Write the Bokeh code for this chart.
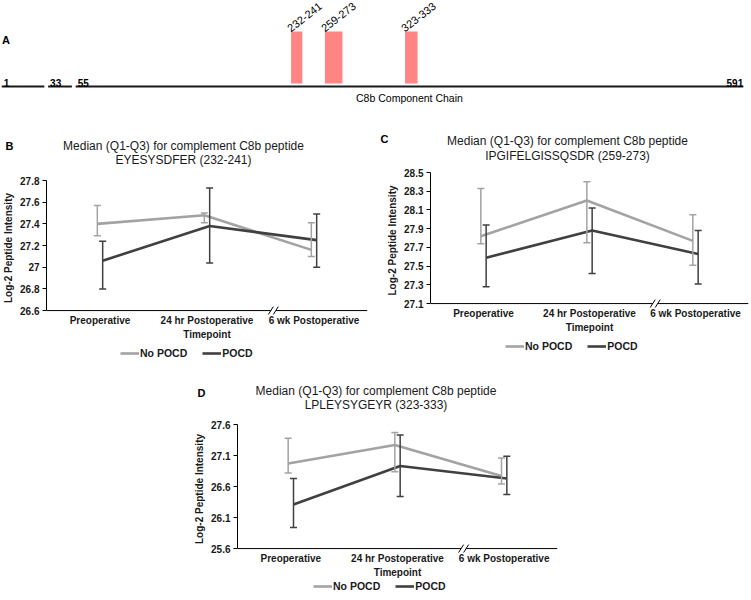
from bokeh.plotting import figure
from bokeh.models import (Range1d, FixedTicker, NumeralTickFormatter, ColumnDataSource,
                          Whisker, TeeHead, Legend, LegendItem, Spacer)
from bokeh.layouts import column, row
from bokeh.embed import file_html
from bokeh.resources import INLINE
from bokeh.core.properties import value

FONT = "Liberation Sans"
INK = "#1a1a1a"
C_NO = "#a3a3a3"
C_PO = "#404040"
BAR = "#ff8585"
NAN = float("nan")

# ---------------- data ----------------
chain_bounds = [1, 33, 55, 591]
chain_labels = ["1", "33", "55", "591"]
chain_name = "C8b Component Chain"
pep_start = [232, 259, 323]
pep_end = [241, 273, 333]
pep_labels = ["232-241", "259-273", "323-333"]

timepoints = ["Preoperative", "24 hr Postoperative", "6 wk Postoperative"]
series_names = ["No POCD", "POCD"]
x_label = "Timepoint"
y_label = "Log-2 Peptide Intensity"

# B: EYESYSDFER (232-241)
b_title = ["Median (Q1-Q3) for complement C8b peptide", "EYESYSDFER (232-241)"]
b_ticks = [26.6, 26.8, 27.0, 27.2, 27.4, 27.6, 27.8]
b_no_med = [27.40, 27.48, 27.16]
b_no_q1 = [27.29, 27.41, 27.10]
b_no_q3 = [27.57, 27.50, 27.41]
b_po_med = [27.06, 27.38, 27.25]
b_po_q1 = [26.80, 27.04, 27.00]
b_po_q3 = [27.24, 27.73, 27.49]

# C: IPGIFELGISSQSDR (259-273)
c_title = ["Median (Q1-Q3) for complement C8b peptide", "IPGIFELGISSQSDR (259-273)"]
c_ticks = [27.1, 27.3, 27.5, 27.7, 27.9, 28.1, 28.3, 28.5]
c_no_med = [27.82, 28.20, 27.77]
c_no_q1 = [27.74, 27.75, 27.51]
c_no_q3 = [28.33, 28.40, 28.05]
c_po_med = [27.59, 27.88, 27.63]
c_po_q1 = [27.28, 27.42, 27.31]
c_po_q3 = [27.94, 28.12, 27.88]

# D: LPLEYSYGEYR (323-333)
d_title = ["Median (Q1-Q3) for complement C8b peptide", "LPLEYSYGEYR (323-333)"]
d_ticks = [25.6, 26.1, 26.6, 27.1, 27.6]
d_no_med = [26.97, 27.27, 26.77]
d_no_q1 = [26.82, 26.84, 26.64]
d_no_q3 = [27.38, 27.47, 27.06]
d_po_med = [26.31, 26.93, 26.73]
d_po_q1 = [25.94, 26.44, 26.47]
d_po_q3 = [26.73, 27.43, 27.09]


def no_align(p):
    try:
        p.frame_align = False
    except Exception:
        pass
    return p


def bare(width, height, x_range, y_range):
    p = figure(width=width, height=height, x_range=x_range, y_range=y_range,
               output_backend="svg", toolbar_location=None,
               x_axis_location=None, y_axis_location=None,
               min_border=0, min_border_left=0, min_border_right=0,
               min_border_top=0, min_border_bottom=0)
    p.outline_line_color = None
    p.grid.visible = False
    return no_align(p)


# ---------------- panel A ----------------
def panel_a():
    W, H = 751, 125
    r_end = W / 1.2525
    # y measured in px from the top (reversed range)
    p = bare(W, H, Range1d(0, r_end), Range1d(H, 0))
    line_y = 86
    seg_x0 = [chain_bounds[0]] + [b + 5 for b in chain_bounds[1:3]]
    seg_x1 = [b + 2 for b in chain_bounds[1:4]]
    p.segment(x0=seg_x0, y0=[line_y] * 3, x1=seg_x1, y1=[line_y] * 3,
              line_color=INK, line_width=2.2)
    p.quad(left=pep_start, right=pep_end, bottom=[line_y - 3] * 3, top=[31] * 3,
           fill_color=BAR, line_color=None)
    p.text(x=pep_start, y=[31] * 3, text=pep_labels, angle=38, angle_units="deg",
           x_offset=0, y_offset=1, text_align="left", text_baseline="bottom",
           text_font=value(FONT), text_font_size="11px", text_color="black")
    p.text(x=seg_x0, y=[line_y] * 3, text=chain_labels[:3], x_offset=2, y_offset=0,
           text_align="left", text_baseline="bottom", text_font=value(FONT),
           text_font_size="10px", text_font_style="bold", text_color="black")
    p.text(x=[seg_x1[2]], y=[line_y], text=[chain_labels[3]], x_offset=0, y_offset=0,
           text_align="right", text_baseline="bottom", text_font=value(FONT),
           text_font_size="10px", text_font_style="bold", text_color="black")
    p.text(x=[(seg_x0[2] + seg_x1[2]) / 2], y=[line_y], text=[chain_name], y_offset=11,
           text_align="center", text_baseline="middle", text_font=value(FONT),
           text_font_size="10.5px", text_color="black")
    p.text(x=[1.5 / 1.2525], y=[39], text=["A"], text_align="left", text_baseline="middle",
           text_font=value(FONT), text_font_size="11px", text_font_style="bold",
           text_color="black")
    return p


# ---------------- header with panel letter and title ----------------
def header(width, height, letter, letter_x, letter_y, title, title_x, title_ys):
    p = bare(width, height, Range1d(0, width), Range1d(height, 0))
    p.text(x=[letter_x], y=[letter_y], text=[letter], text_align="left",
           text_baseline="middle", text_font=value(FONT), text_font_size="11px",
           text_font_style="bold", text_color="black")
    p.text(x=[title_x] * 2, y=title_ys, text=title, text_align="center",
           text_baseline="middle", text_font=value(FONT), text_font_size="12px",
           text_color=INK)
    return p


# ---------------- footer with the legend ----------------
def footer(width, height, left, top):
    p = bare(width, height, Range1d(0, 1), Range1d(0, 1))
    r_no = p.line(x=[NAN, NAN], y=[NAN, NAN], line_color=C_NO, line_width=2.6)
    r_po = p.line(x=[NAN, NAN], y=[NAN, NAN], line_color=C_PO, line_width=2.6)
    leg = Legend(items=[LegendItem(label=series_names[0], renderers=[r_no]),
                        LegendItem(label=series_names[1], renderers=[r_po])],
                 location=(left, height - top - 12), orientation="horizontal",
                 glyph_width=19, glyph_height=12, label_height=12, label_standoff=1,
                 spacing=15, padding=0, margin=0, border_line_color=None,
                 background_fill_alpha=0, label_text_font=FONT,
                 label_text_font_size="10.5px", label_text_font_style="bold",
                 label_text_color=INK)
    p.add_layout(leg)
    return p


# ---------------- line charts ----------------
def chart(fw, fh, mbl, mbr, mbt, mbb, ticks, no_med, no_q1, no_q3,
          po_med, po_q1, po_q3):
    pad = 5  # px of frame below the visual x axis
    y_lo, y_hi = ticks[0], ticks[-1]
    u = (y_hi - y_lo) / fh
    x_lo, x_hi = 0.5, 3.5
    p = figure(width=mbl + fw + mbr, height=mbt + fh + pad + mbb,
               x_range=Range1d(x_lo, x_hi), y_range=Range1d(y_lo - pad * u, y_hi),
               output_backend="svg", toolbar_location=None,
               min_border_left=mbl, min_border_right=mbr,
               min_border_top=mbt, min_border_bottom=mbb)
    no_align(p)
    p.outline_line_color = None
    p.grid.visible = False
    xu = (x_hi - x_lo) / fw

    ya = p.yaxis[0]
    ya.ticker = FixedTicker(ticks=ticks)
    ya.formatter = NumeralTickFormatter(format="0.[0]")
    ya.bounds = (y_lo, y_hi)
    ya.major_tick_out = 4
    ya.major_tick_in = 0
    ya.minor_tick_out = 0
    ya.minor_tick_in = 0
    ya.axis_line_color = "black"
    ya.major_tick_line_color = "black"
    ya.major_label_text_font = FONT
    ya.major_label_text_font_size = "10px"
    ya.major_label_text_font_style = "bold"
    ya.major_label_text_color = INK
    ya.major_label_standoff = 3
    ya.axis_label = y_label
    ya.axis_label_text_font = FONT
    ya.axis_label_text_font_size = "10px"
    ya.axis_label_text_font_style = "bold"
    ya.axis_label_text_color = INK
    ya.axis_label_standoff = 3

    xa = p.xaxis[0]
    xa.ticker = FixedTicker(ticks=[1, 2, 3])
    xa.major_label_overrides = {i + 1: t for i, t in enumerate(timepoints)}
    xa.axis_line_color = None
    xa.major_tick_out = 0
    xa.major_tick_in = 0
    xa.minor_tick_out = 0
    xa.minor_tick_in = 0
    xa.major_label_text_font = FONT
    xa.major_label_text_font_size = "10px"
    xa.major_label_text_font_style = "bold"
    xa.major_label_text_color = INK
    xa.major_label_standoff = -1
    xa.axis_label = x_label
    xa.axis_label_text_font = FONT
    xa.axis_label_text_font_size = "10px"
    xa.axis_label_text_font_style = "bold"
    xa.axis_label_text_color = INK
    xa.axis_label_standoff = 0

    # visual x axis line with a break mark between the last two timepoints
    brk = 2.62
    gap = 2.5 * xu
    p.segment(x0=[x_lo, brk + gap], y0=[y_lo, y_lo], x1=[brk - gap, x_hi], y1=[y_lo, y_lo],
              line_color="black", line_width=1)
    p.segment(x0=[brk - gap - 2.5 * xu, brk + gap - 2.5 * xu], y0=[y_lo - 4 * u] * 2,
              x1=[brk - gap + 2.5 * xu, brk + gap + 2.5 * xu], y1=[y_lo + 4 * u] * 2,
              line_color="black", line_width=1)

    dodge = 0.025
    xs_no = [i + 1 - dodge for i in range(3)]
    xs_po = [i + 1 + dodge for i in range(3)]
    for xs, med, q1, q3, col in ((xs_no, no_med, no_q1, no_q3, C_NO),
                                 (xs_po, po_med, po_q1, po_q3, C_PO)):
        src = ColumnDataSource(dict(x=xs, med=med, lo=q1, hi=q3))
        w = Whisker(base="x", lower="lo", upper="hi", source=src, level="glyph",
                    line_color=col, line_width=1.5,
                    upper_head=TeeHead(size=7, line_color=col, line_width=1.5),
                    lower_head=TeeHead(size=7, line_color=col, line_width=1.5))
        p.add_layout(w)
        p.line(x="x", y="med", source=src, line_color=col, line_width=2.6)
    return p


pa = panel_a()

# row 2 (y 125..378)
hb = header(375, 47, "B", 5, 20, b_title, 183, [20.5, 34])
pb = chart(324, 132, 43, 8, 8, 25, b_ticks,
           b_no_med, b_no_q1, b_no_q3, b_po_med, b_po_q1, b_po_q3)
fb = footer(375, 36, 43 + 77, 5)

hc = header(376, 39, "C", 5, 13, c_title, 192, [15.5, 30.5])
pc = chart(318, 133, 55, 3, 8, 25, c_ticks,
           c_no_med, c_no_q1, c_no_q3, c_po_med, c_po_q1, c_po_q3)
fc = footer(376, 43, 55 + 75, 5)

# row 3 (y 378..598)
hd = header(377, 38, "D", 7, 14.5, d_title, 185.5, [12.5, 26.5])
pd_ = chart(320, 126, 47, 10, 8, 25, d_ticks,
            d_no_med, d_no_q1, d_no_q3, d_po_med, d_po_q1, d_po_q3)
fd = footer(377, 18, 47 + 76, 0)

layout = column(pa,
                row(column(hb, pb, fb), column(hc, pc, fc)),
                row(Spacer(width=190, height=200), column(hd, pd_, fd)))
open("out.html", "w").write(file_html(layout, INLINE))
